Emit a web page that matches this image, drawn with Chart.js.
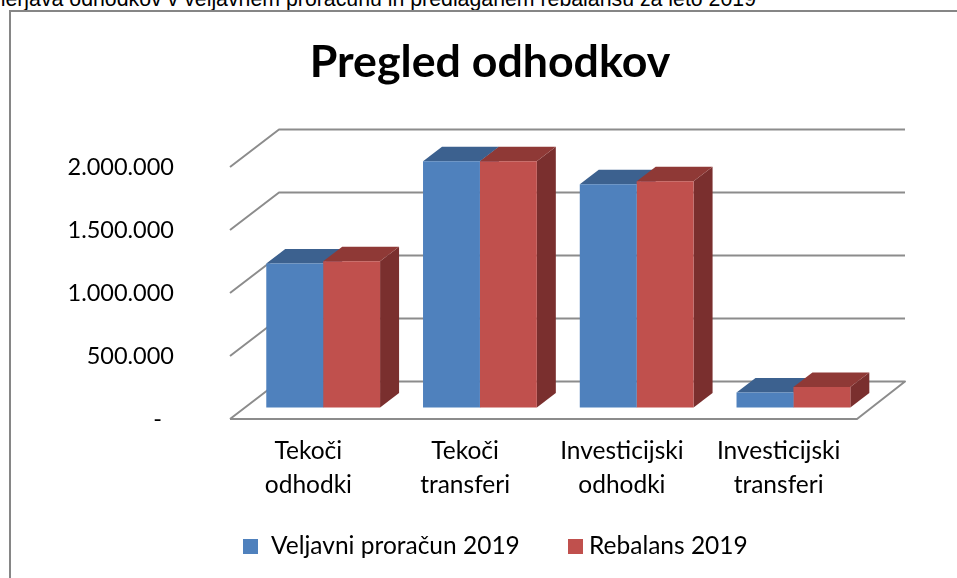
<!DOCTYPE html>
<html lang="sl">
<head>
<meta charset="utf-8">
<style>
html,body{margin:0;padding:0;background:#fff;width:957px;height:578px;overflow:hidden}
#cap{position:absolute;right:201px;top:-11.5px;font:21.3px/20px "Liberation Sans",Arial,sans-serif;color:#000;white-space:nowrap}
#bt{position:absolute;left:9px;top:10px;width:948px;height:1.5px;background:#868686}
#bl{position:absolute;left:9px;top:10px;width:1.5px;height:568px;background:#868686}
canvas{position:absolute;left:0;top:0}
</style>
<script src="https://cdn.jsdelivr.net/npm/chart.js@4"></script>
</head>
<body>
<div id="cap">Primerjava odhodkov v veljavnem proračunu in predlaganem rebalansu za leto 2019</div>
<div id="bt"></div><div id="bl"></div>
<canvas id="c" width="980" height="578"></canvas>
<script>
const titleText = 'Pregled odhodkov';
const categories = [['Tekoči','odhodki'],['Tekoči','transferi'],['Investicijski','odhodki'],['Investicijski','transferi']];
const seriesNames = ['Veljavni proračun 2019','Rebalans 2019'];
const veljavni = [1143000,1955000,1772000,119000];
const rebalans = [1161000,1955000,1796000,163000];
const yTickLabels = ['-  ','500.000','1.000.000','1.500.000','2.000.000'];
const FONT = 'Lato, Carlito, Calibri, sans-serif';

const DEPTH = {wx:49, wy:37.5, bx:14.8, by:-11.5, fx:19, fy:14.5};
const faces = [{top:'#3C618F', side:'#375A85', box:'#4F81BD'}, {top:'#8F3936', side:'#7A2F2E', box:'#C0504D'}];
const legendPos = [{box:243, text:271}, {box:568, text:589}];

const scene3d = {
  id:'scene3d',
  beforeDatasetsDraw(chart){
    const {ctx, scales:{y}, chartArea:a} = chart;
    ctx.save();
    ctx.strokeStyle = '#8C8C8C';
    ctx.lineWidth = 2;
    ctx.lineJoin = 'round';
    y.ticks.forEach(t=>{
      const py = y.getPixelForValue(t.value);
      ctx.beginPath();
      ctx.moveTo(a.left, py);
      ctx.lineTo(a.left+DEPTH.wx, py-DEPTH.wy);
      ctx.lineTo(a.right+DEPTH.wx-1, py-DEPTH.wy);
      if (t.value===0){
        ctx.lineTo(a.right, py);
        ctx.lineTo(a.left, py);
      }
      ctx.stroke();
    });
    ctx.restore();
    ctx.save();
    ctx.translate(DEPTH.bx, DEPTH.by);
    chart.data.datasets.forEach((d,i)=>{
      chart.getDatasetMeta(i).data.forEach(bar=>{
        const p = bar.getProps(['x','y','base','width'], true);
        const l = p.x-p.width/2, r = p.x+p.width/2;
        ctx.fillStyle = faces[i].side;
        ctx.beginPath();
        ctx.moveTo(r,p.y); ctx.lineTo(r+DEPTH.fx,p.y-DEPTH.fy);
        ctx.lineTo(r+DEPTH.fx,p.base-DEPTH.fy); ctx.lineTo(r,p.base);
        ctx.closePath(); ctx.fill();
        ctx.fillStyle = faces[i].top;
        ctx.beginPath();
        ctx.moveTo(l,p.y); ctx.lineTo(l+DEPTH.fx,p.y-DEPTH.fy);
        ctx.lineTo(r+DEPTH.fx,p.y-DEPTH.fy); ctx.lineTo(r,p.y);
        ctx.closePath(); ctx.fill();
      });
    });
  },
  afterDatasetsDraw(chart){ chart.ctx.restore(); },
  afterDraw(chart){
    const ctx = chart.ctx;
    ctx.save();
    ctx.font = '24.5px '+FONT;
    ctx.textBaseline = 'middle';
    ctx.textAlign = 'left';
    chart.data.datasets.forEach((d,i)=>{
      ctx.fillStyle = faces[i].box;
      ctx.fillRect(legendPos[i].box, 539, 15, 15);
      ctx.fillStyle = '#000';
      ctx.fillText(d.label, legendPos[i].text, 546);
    });
    ctx.restore();
  }
};

new Chart(document.getElementById('c'),{
  type:'bar',
  data:{
    labels:categories,
    datasets:[
      {label:seriesNames[0],data:veljavni,backgroundColor:faces[0].box,clip:false},
      {label:seriesNames[1],data:rebalans,backgroundColor:faces[1].box,clip:false}
    ]
  },
  options:{
    responsive:false,
    animation:false,
    devicePixelRatio:1,
    categoryPercentage:0.726,
    barPercentage:1,
    layout:{padding:0},
    plugins:{
      legend:{display:false},
      tooltip:{enabled:false},
      title:{display:true,text:titleText,color:'#000',
        font:{family:FONT,size:44.7,weight:'bold',lineHeight:1.2},
        padding:{top:36,bottom:77.4}}
    },
    scales:{
      x:{
        grid:{display:false,drawTicks:false},
        border:{display:false},
        ticks:{color:'#000',font:{family:FONT,size:24.5,lineHeight:1.37},padding:15.5,maxRotation:0,autoSkip:false},
        afterFit(s){s.height=159;}
      },
      y:{
        min:0,max:2000000,
        grid:{display:false,drawTicks:false},
        border:{display:false},
        ticks:{stepSize:500000,color:'#000',font:{family:FONT,size:23.5},padding:56,
          callback:(v)=>yTickLabels[v/500000]},
        afterFit(s){s.width=230;}
      },
      spacer:{
        position:'right',
        display:true,
        grid:{display:false,drawTicks:false},
        border:{display:false},
        ticks:{display:false},
        afterFit(s){s.width=123;}
      }
    }
  },
  plugins:[scene3d]
});
</script>
</body>
</html>
